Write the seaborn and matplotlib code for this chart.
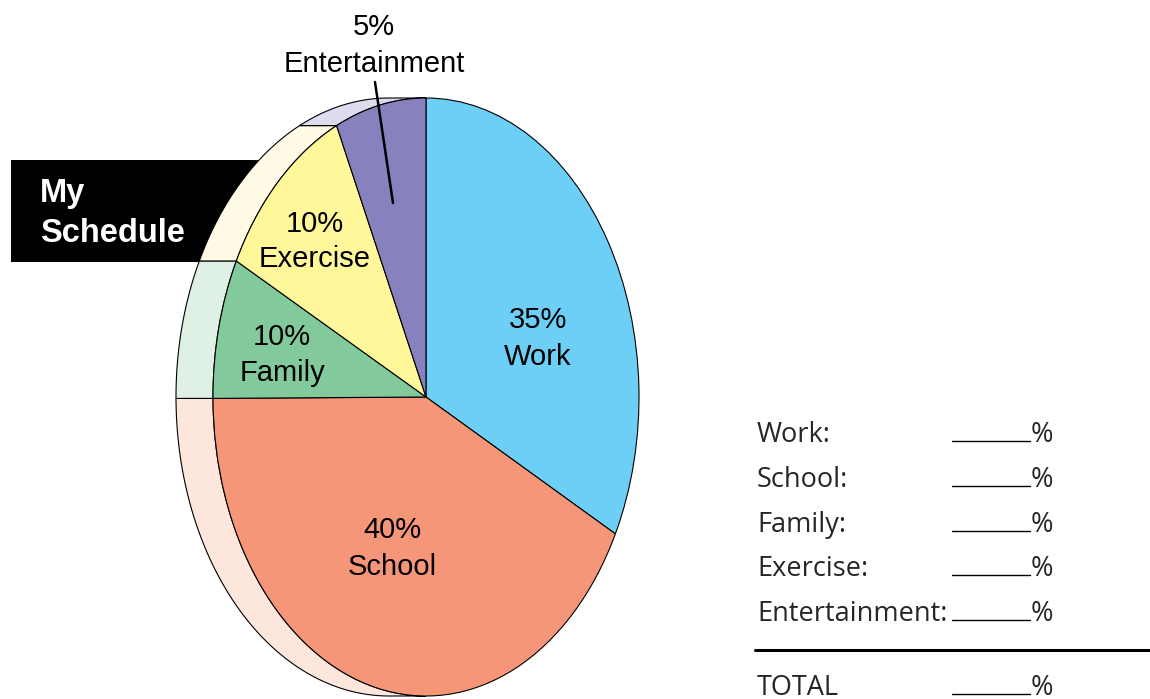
import numpy as np
import matplotlib
matplotlib.use("Agg")
import matplotlib.pyplot as plt
from matplotlib.patches import Polygon, Rectangle
from matplotlib.lines import Line2D
import seaborn as sns

# ---------------- data ----------------
categories = ["Work", "School", "Family", "Exercise", "Entertainment"]
label_pct = [35, 40, 10, 10, 5]                 # percentages printed on the chart
drawn_share = [32.6, 42.4, 7.6, 10.6, 6.9]      # slice sizes as drawn in the picture
face_colors = ["#6dcff6", "#f69679", "#82ca9c", "#fff799", "#8781bd"]
rim_colors = ["#dff4fd", "#fde6dc", "#dff0e5", "#fffbe7", "#dddbee"]
table_rows = ["Work:", "School:", "Family:", "Exercise:", "Entertainment:"]
total_label = "TOTAL"
title_lines = ["My", "Schedule"]

# ---------------- style ----------------
sns.set_theme(style="white")
plt.rcParams["font.family"] = ["Liberation Sans", "DejaVu Sans"]

W, H = 1150, 699
fig = plt.figure(figsize=(W / 100, H / 100), dpi=100)
ax = fig.add_axes([0, 0, 1, 1])

# pixel geometry of the (squashed) pie
CX, CY, RX, RY = 426, 397, 213, 299
DEPTH = 37 / RX


def dx(px):
    return (px - CX) / RX


def dy(py):
    return (CY - py) / RY


def P(px, py):
    return (px / W, 1 - py / H)


wedges, _ = ax.pie(drawn_share, colors=face_colors, startangle=90,
                   counterclock=False, radius=1,
                   wedgeprops=dict(edgecolor="black", linewidth=0.8))
for w in wedges:
    w.set_zorder(2)
ax.set_aspect("auto")
ax.set_xlim(dx(0), dx(W))
ax.set_ylim(dy(H), dy(0))
ax.axis("off")

# side rim (extrusion to the left) for the left half of each wedge
for w, rc in zip(wedges, rim_colors):
    for k in (-360, 0, 360):
        a = max(w.theta1, 90 + k)
        b = min(w.theta2, 270 + k)
        if b - a <= 0.01:
            continue
        t = np.radians(np.linspace(a, b, 80))
        arc = np.column_stack([np.cos(t), np.sin(t)])
        shifted = arc[::-1] - np.array([DEPTH, 0])
        poly = Polygon(np.vstack([arc, shifted]), closed=True,
                       facecolor=rc, edgecolor="black", linewidth=0.8, zorder=1)
        ax.add_patch(poly)

# black title box (behind the rim)
ax.add_patch(Rectangle((dx(11), dy(262)), dx(300) - dx(11), dy(160) - dy(262),
                       facecolor="black", edgecolor="none", zorder=0.5))
fig.text(*P(40, 202), title_lines[0], color="white", fontsize=23.5,
         fontweight="bold", ha="left", va="baseline")
fig.text(*P(40, 242), title_lines[1], color="white", fontsize=23.5,
         fontweight="bold", ha="left", va="baseline")

# slice labels
label_pos = {
    "Work": (538, 328, 365),
    "School": (392, 538, 575),
    "Family": (282, 345, 381),
    "Exercise": (315, 232, 267),
    "Entertainment": (374, 35, 72),
}
for cat, pct in zip(categories, label_pct):
    x, y1, y2 = label_pos[cat]
    fig.text(*P(x, y1), f"{pct}%", fontsize=21, ha="center", va="baseline",
             color="black", zorder=5)
    fig.text(*P(x, y2), cat, fontsize=21, ha="center", va="baseline",
             color="black", zorder=5)

# leader line for Entertainment
fig.add_artist(Line2D([375 / W, 393 / W], [1 - 82 / H, 1 - 203 / H],
                      color="black", linewidth=1.8, zorder=6))

# ---------------- worksheet table ----------------
tfont = ["Open Sans", "DejaVu Sans"]
row_base = [442, 487, 532, 576, 621]
for lab, yb in zip(table_rows, row_base):
    fig.text(*P(757, yb), lab, fontsize=19.5, family=tfont, ha="left", va="baseline")
    fig.add_artist(Line2D([952 / W, 1030 / W], [1 - (yb - 1) / H] * 2,
                          color="black", linewidth=1.0))
    fig.text(*P(1031, yb), "%", fontsize=19.5, family=tfont, ha="left", va="baseline")

fig.add_artist(Line2D([755 / W, 1150 / W], [1 - 650 / H] * 2,
                      color="black", linewidth=2.2))
fig.text(*P(757, 695), total_label, fontsize=19.5, family=tfont, ha="left", va="baseline")
fig.add_artist(Line2D([952 / W, 1030 / W], [1 - 694 / H] * 2,
                      color="black", linewidth=1.0))
fig.text(*P(1031, 695), "%", fontsize=19.5, family=tfont, ha="left", va="baseline")

fig.savefig("out.png", dpi=100)
